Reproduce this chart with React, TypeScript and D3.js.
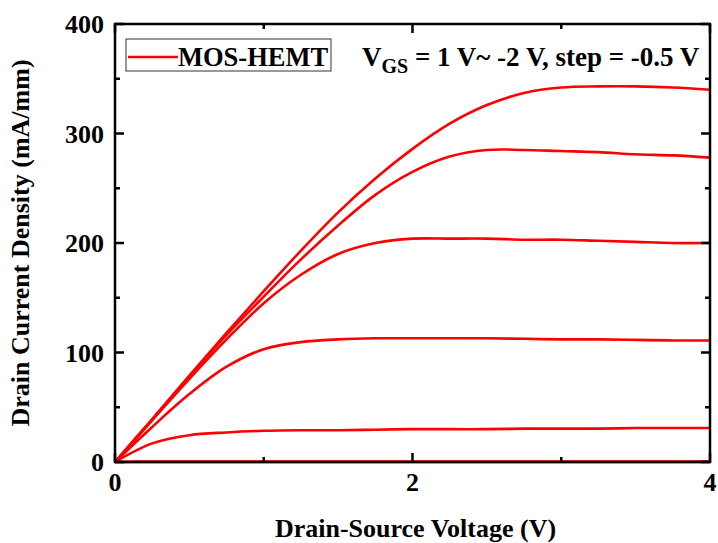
import React from 'react';
import * as d3 from 'd3';

const voltage = [0, 0.25, 0.5, 0.75, 1, 1.25, 1.5, 1.75, 2, 2.25, 2.5, 2.75, 3, 3.25, 3.5, 3.75, 4];

// drain current density (mA/mm) for VGS = 1, 0.5, 0, -0.5, -1, -1.5, -2 V
const id_p1 = [0, 39, 79, 118, 156, 193, 228, 259, 286, 309, 326, 337, 342, 343, 343, 342, 340];
const id_p05 = [0, 39, 78, 116, 151, 185, 216, 244, 265, 279, 285, 285, 284, 283, 281, 280, 278];
const id_0 = [0, 38, 76, 112, 145, 171, 190, 200, 204, 204, 204, 203, 203, 202, 201, 200, 200];
const id_m05 = [0, 32, 62, 87, 103, 109.5, 112, 113, 113, 113, 113, 112.5, 112, 112, 111.5, 111, 111];
const id_m1 = [0, 17, 24.5, 27, 28.5, 29, 29, 29.5, 30, 30, 30, 30.5, 30.5, 30.5, 31, 31, 31];
const id_m15 = [0, 0.5, 0.5, 0.5, 0.5, 0.5, 0.5, 0.5, 0.5, 0.5, 0.5, 0.5, 0.5, 0.5, 0.5, 0.5, 0.5];
const id_m2 = [0, 0, 0, 0, 0, 0, 0, 0, 0, 0, 0, 0, 0, 0, 0, 0, 0];

const series = [id_p1, id_p05, id_0, id_m05, id_m1, id_m15, id_m2];

const xTicks = [0, 2, 4];
const xMinor = [1, 3];
const yTicks = [0, 100, 200, 300, 400];
const yMinor = [50, 150, 250, 350];

const width = 718;
const height = 543;
const margin = { top: 24, right: 8, bottom: 81, left: 115 };

const x = d3.scaleLinear().domain([0, 4]).range([margin.left, width - margin.right]);
const y = d3.scaleLinear().domain([0, 400]).range([height - margin.bottom, margin.top]);

const line = d3.line<number>()
  .x((d, i) => x(voltage[i]))
  .y(d => y(d))
  .curve(d3.curveCatmullRom.alpha(0.5));

const txt = { fontFamily: "'Liberation Serif'", fontWeight: 'bold' as const };

function App() {
  const x0 = x.range()[0], x1 = x.range()[1];
  const y0 = y.range()[0], y1 = y.range()[1];
  return (
    <svg width={width} height={height} style={{ position: 'absolute', left: 0, top: 0 }}>
      {series.map((s, i) => (
        <path key={i} d={line(s) || ''} fill="none" stroke="#ff0000" strokeWidth={2.6} />
      ))}
      <rect x={x0} y={y1} width={x1 - x0} height={y0 - y1} fill="none" stroke="#000" strokeWidth={2.5} />
      {xTicks.map(t => (
        <g key={'x' + t}>
          <line x1={x(t)} x2={x(t)} y1={y0} y2={y0 - 9} stroke="#000" strokeWidth={2.5} />
          <line x1={x(t)} x2={x(t)} y1={y1} y2={y1 + 9} stroke="#000" strokeWidth={2.5} />
          <text x={x(t)} y={y0 + 29} textAnchor="middle" fontSize={26} style={txt}>{t}</text>
        </g>
      ))}
      {xMinor.map(t => (
        <g key={'xm' + t}>
          <line x1={x(t)} x2={x(t)} y1={y0} y2={y0 - 5} stroke="#000" strokeWidth={2.5} />
          <line x1={x(t)} x2={x(t)} y1={y1} y2={y1 + 5} stroke="#000" strokeWidth={2.5} />
        </g>
      ))}
      {yTicks.map(t => (
        <g key={'y' + t}>
          <line x1={x0} x2={x0 + 9} y1={y(t)} y2={y(t)} stroke="#000" strokeWidth={2.5} />
          <line x1={x1} x2={x1 - 9} y1={y(t)} y2={y(t)} stroke="#000" strokeWidth={2.5} />
          <text x={x0 - 11} y={y(t) + 9} textAnchor="end" fontSize={26} style={txt}>{t}</text>
        </g>
      ))}
      {yMinor.map(t => (
        <g key={'ym' + t}>
          <line x1={x0} x2={x0 + 5} y1={y(t)} y2={y(t)} stroke="#000" strokeWidth={2.5} />
          <line x1={x1} x2={x1 - 5} y1={y(t)} y2={y(t)} stroke="#000" strokeWidth={2.5} />
        </g>
      ))}
      <text x={(x0 + x1) / 2 + 3} y={537} textAnchor="middle" fontSize={26} style={txt}>Drain-Source Voltage (V)</text>
      <text transform={`translate(29,${(y0 + y1) / 2}) rotate(-90)`} textAnchor="middle" fontSize={26} style={txt}>
        Drain Current Density (mA/mm)
      </text>
      <rect x={126} y={39} width={205} height={32} fill="#fff" stroke="#333" strokeWidth={1} />
      <line x1={128} x2={178} y1={57} y2={57} stroke="#ff0000" strokeWidth={2.6} />
      <text x={178} y={66} fontSize={26.5} style={txt}>MOS-HEMT</text>
      <text x={362} y={66} fontSize={27} style={txt}>
        V<tspan fontSize={20} dy={7}>GS</tspan><tspan dy={-7}> = 1 V~ -2 V, step = -0.5 V</tspan>
      </text>
    </svg>
  );
}

export default App;
